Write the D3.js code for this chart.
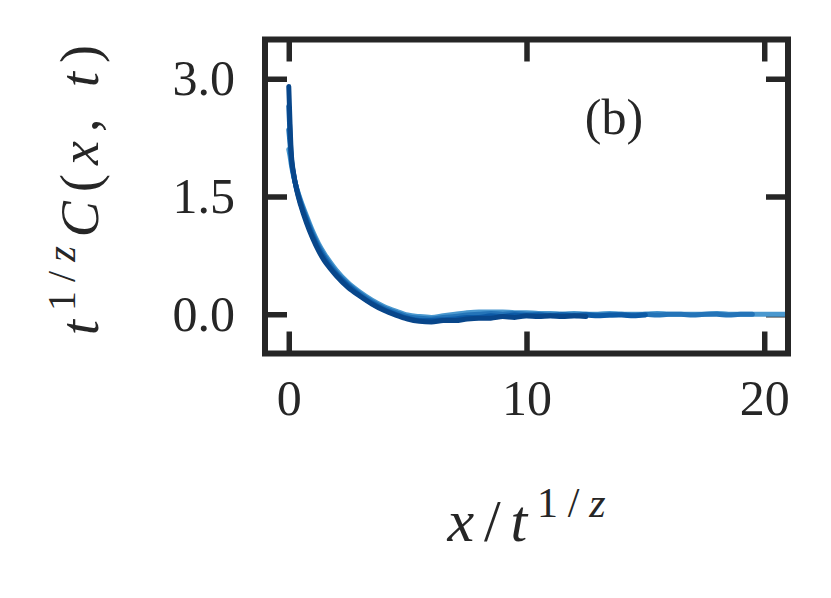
<!DOCTYPE html>
<html>
<head>
<meta charset="utf-8">
<script src="https://cdn.jsdelivr.net/npm/d3@7"></script>
<style>
  body { margin: 0; background: #fff; }
  text { font-family: "Liberation Serif", "DejaVu Serif", serif; fill: #262626; }
</style>
</head>
<body>
<svg id="chart" width="831" height="598"></svg>
<script>
// shared x grid, x / t^(1/z)
const xs = [0, 0.05, 0.1, 0.2, 0.35, 0.5, 0.75, 1, 1.25, 1.5, 1.75, 2,
  2.5, 3, 3.5, 4, 4.5, 5, 5.5, 6, 6.5, 7, 7.5, 8, 8.5, 9, 9.5, 10, 10.5, 11,
  11.5, 12, 12.5, 13, 13.5, 14, 14.5, 15, 15.5, 16, 16.5, 17, 17.5, 18, 18.5,
  19, 19.5, 20, 20.5, 21];

// t^(1/z) C(x,t), one list per time (lighter = earlier)
const curveA = [2.10, 2.02, 1.92, 1.76, 1.59, 1.45, 1.25, 1.06, 0.90, 0.77, 0.66, 0.56,
  0.40, 0.28, 0.18, 0.10, 0.04, -0.01, -0.03, -0.04, -0.02, 0.00, 0.02, 0.03, 0.03, 0.03,
  0.02, 0.02, 0.01, 0.01, 0.00, 0.01, 0.00, 0.00, 0.01, 0.00, 0.00, 0.00, 0.01, 0.00,
  0.00, 0.00, 0.00, 0.01, 0.00, 0.00, 0.00, 0.00, 0.00, 0.00];
const curveB = [2.35, 2.18, 1.98, 1.78, 1.58, 1.43, 1.22, 1.03, 0.87, 0.74, 0.63, 0.53,
  0.38, 0.26, 0.16, 0.08, 0.02, -0.03, -0.05, -0.06, -0.04, -0.03, -0.01, 0.00, 0.01, 0.00,
  0.01, 0.00, 0.00, -0.01, 0.00, -0.01, 0.00, -0.01, -0.01, 0.00, -0.01, 0.00, -0.01, 0.00,
  0.00, -0.01, 0.00, 0.00, -0.01, 0.00, 0.00];
const curveC = [2.65, 2.30, 2.02, 1.79, 1.57, 1.41, 1.19, 1.00, 0.84, 0.71, 0.60, 0.51,
  0.36, 0.24, 0.14, 0.06, 0.00, -0.05, -0.08, -0.08, -0.07, -0.06, -0.04, -0.04, -0.02, -0.03,
  -0.01, -0.02, -0.01, -0.02, -0.01, -0.02, -0.01, -0.02, -0.01, -0.01, -0.02, -0.01];
const curveD = [2.90, 2.45, 2.08, 1.80, 1.56, 1.39, 1.16, 0.97, 0.81, 0.68, 0.58, 0.49,
  0.34, 0.23, 0.13, 0.05, -0.01, -0.06, -0.09, -0.10, -0.08, -0.08, -0.06, -0.05, -0.05, -0.03,
  -0.04, -0.02, -0.03, -0.02, -0.03, -0.02, -0.03];

const curves = [curveA, curveB, curveC, curveD];
const colors = ["#4a98cf", "#2474b8", "#0c5aa6", "#08468a"];

const xTicks = [0, 10, 20];
const yTicks = [0, 1.5, 3];

const plotLeft = 265, plotRight = 788, plotTop = 39.5, plotBottom = 353.5;
const svg = d3.select("#chart");

const x = d3.scaleLinear().domain([-1, 21]).range([plotLeft, plotRight]);
const y = d3.scaleLinear().domain([-0.5, 3.5]).range([plotBottom, plotTop]);

// axes: ticks point inward on all four sides
const tickLen = 22;
const styleAxis = g => {
  g.select(".domain").remove();
  g.selectAll(".tick line").attr("stroke", "#262626").attr("stroke-width", 5.5);
  g.selectAll(".tick text").attr("font-size", 50).attr("fill", "#262626")
    .attr("font-family", "Liberation Serif, serif");
};

svg.append("g")
  .attr("transform", `translate(0,${plotBottom})`)
  .call(d3.axisBottom(x).tickValues(xTicks).tickSize(-tickLen).tickPadding(26).tickFormat(d3.format("d")))
  .call(styleAxis);
svg.append("g")
  .attr("transform", `translate(0,${plotTop})`)
  .call(d3.axisTop(x).tickValues(xTicks).tickSize(-tickLen).tickFormat(""))
  .call(styleAxis);
svg.append("g")
  .attr("transform", `translate(${plotLeft},0)`)
  .call(d3.axisLeft(y).tickValues(yTicks).tickSize(-tickLen).tickPadding(30).tickFormat(d3.format(".1f")))
  .call(styleAxis);
svg.append("g")
  .attr("transform", `translate(${plotRight},0)`)
  .call(d3.axisRight(y).tickValues(yTicks).tickSize(-tickLen).tickFormat(""))
  .call(styleAxis);

// curves sit over the tick marks, clipped to the axes box
svg.append("clipPath").attr("id", "clip")
  .append("rect")
  .attr("x", plotLeft).attr("y", plotTop)
  .attr("width", plotRight - plotLeft).attr("height", plotBottom - plotTop);

const line = d3.line()
  .x((d, i) => x(xs[i]))
  .y(d => y(d))
  .curve(d3.curveMonotoneX);

svg.append("g").attr("clip-path", "url(#clip)")
  .selectAll("path")
  .data(curves)
  .join("path")
  .attr("fill", "none")
  .attr("stroke", (d, i) => colors[i])
  .attr("stroke-width", 5)
  .attr("stroke-linecap", "round")
  .attr("stroke-linejoin", "round")
  .attr("d", line);

// frame
svg.append("rect")
  .attr("x", plotLeft).attr("y", plotTop)
  .attr("width", plotRight - plotLeft).attr("height", plotBottom - plotTop)
  .attr("fill", "none")
  .attr("stroke", "#262626")
  .attr("stroke-width", 6);

// panel label
svg.append("text")
  .attr("x", 614).attr("y", 134)
  .attr("text-anchor", "middle")
  .attr("font-size", 50)
  .text("(b)");

// x label: x/t^{1/z}
const xl = svg.append("text")
  .attr("x", (plotLeft + plotRight) / 2).attr("y", 541)
  .attr("text-anchor", "middle")
  .attr("font-size", 60)
  .attr("textLength", 158)
  .attr("lengthAdjust", "spacing");
xl.append("tspan").attr("font-style", "italic").text("x");
xl.append("tspan").text("/");
xl.append("tspan").attr("font-style", "italic").text("t");
xl.append("tspan").attr("font-size", 42).attr("dy", -24).text("1/");
xl.append("tspan").attr("font-size", 42).attr("font-style", "italic").text("z");

// y label: t^{1/z} C(x, t)
const yl = svg.append("text")
  .attr("transform", "translate(98,190) rotate(-90)")
  .attr("text-anchor", "middle")
  .attr("font-size", 54)
  .attr("textLength", 290)
  .attr("lengthAdjust", "spacing");
yl.append("tspan").attr("font-style", "italic").text("t");
yl.append("tspan").attr("font-size", 40).attr("dy", -23).text("1/");
yl.append("tspan").attr("font-size", 40).attr("font-style", "italic").text("z");
yl.append("tspan").attr("font-style", "italic").attr("dy", 23).text("C");
yl.append("tspan").text("(");
yl.append("tspan").attr("font-style", "italic").text("x");
yl.append("tspan").text(", ");
yl.append("tspan").attr("font-style", "italic").text("t");
yl.append("tspan").text(")");
</script>
</body>
</html>
